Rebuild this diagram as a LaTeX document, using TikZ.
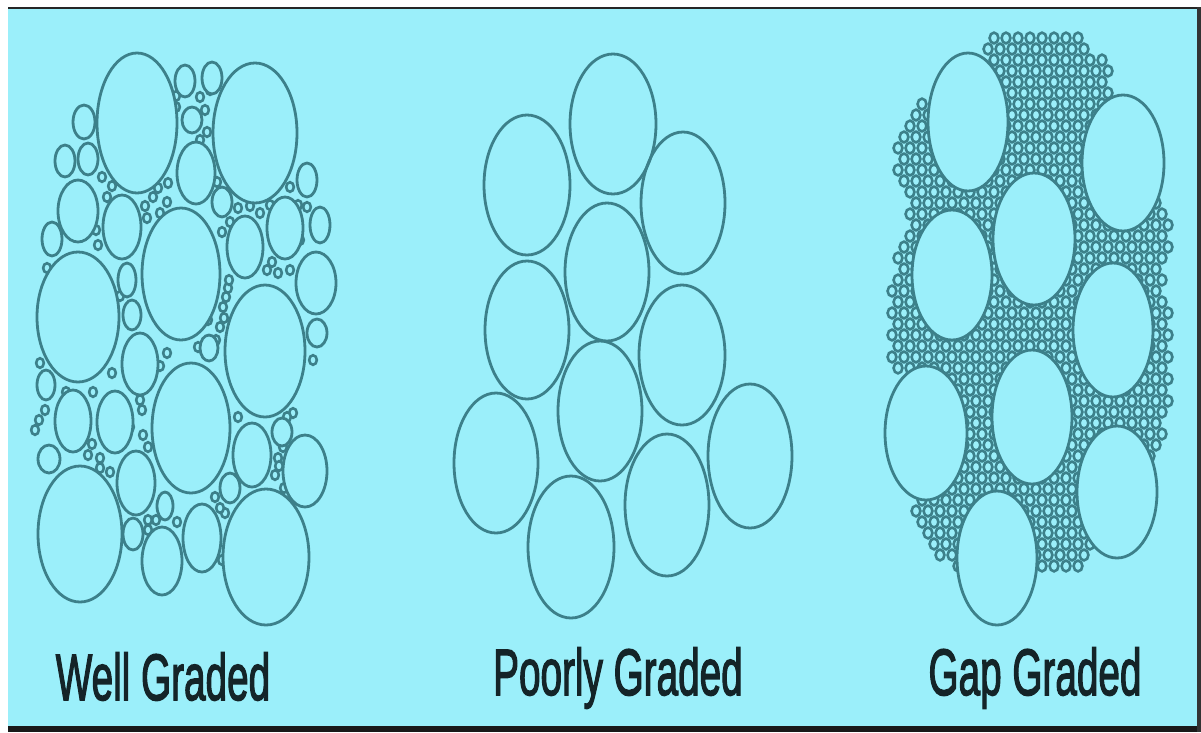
\documentclass[tikz,border=0pt]{standalone}
\usepackage{fontspec}
\setmainfont{Liberation Sans}
\newfontfamily\lblfont[FakeBold=2.5]{Liberation Sans}
\definecolor{bg}{RGB}{155,239,250}
\definecolor{ln}{RGB}{60,128,138}
\definecolor{txt}{RGB}{20,36,40}
\newcommand\ovl[5]{\draw[#1] (#2,#3) ellipse [x radius=#4pt, y radius=#5pt];}
\tikzset{
  big/.style={draw=ln, line width=2.8pt, fill=bg},
  ring/.style={draw=ln, line width=2.8pt},
  tiny/.style={draw=ln, line width=2.6pt, fill=bg},
  grain/.style={draw=ln, line width=2.6pt, fill=bg},
  gradelabel/.style={anchor=base, inner sep=0pt, text=txt, font=\lblfont\fontsize{65.6}{70}\selectfont}
}
\begin{document}
\begin{tikzpicture}[x=1pt,y=-1pt]
\useasboundingbox (0,0) rectangle (1201,732);
\fill[white] (0,0) rectangle (1201,732);
\fill[bg] (8,8) rectangle (1197,726);
\fill[black!85] (8,6.5) rectangle (1201,8.5);
\fill[black!90] (8,726) rectangle (1201,732);
\fill[black!80] (1197,6.5) rectangle (1201,732);

% ---------------- Well graded ----------------
\foreach \px/\py in {102/177,107/197,153/197,147/218,168/183,167/202,98/245,
  200/97,207/132,217/182,222/232,238/208,260/213,290/187,267/270,278/273,290/270,
  228/288,223/307,220/327,307/207,40/363,45/410,93/392,112/373,88/455,100/458,
  110/472,142/410,143/435,148/520,177/522,167/353,140/400,198/347,238/417,
  293/413,278/458,275/475,215/497,225/513,313/360,222/560,160/213,120/296,
  300/240,60/272,35/430,66/392,252/190,176/107,200/140,
  158/188,145/206,112/186,96/230,230/222,250/206,272/262,226/297,224/318,
  216/340,287/417,283/447,279/466,220/508,148/530,156/520,100/468,92/444,
  39/420,205/110,210/90,176/96,70/188,270/205,298/205,229/280,121/402,
  130/427,148/447,160/366,284/488,298/372,47/268,208/320}
  {\ovl{tiny}{\px}{\py}{3.8}{4.8}}
% small
\ovl{big}{185}{81}{10}{16}
\ovl{big}{212}{78}{10}{16}
\ovl{big}{192}{120}{10}{13}
\ovl{big}{84}{122}{11}{17}
\ovl{big}{65}{161}{10}{16}
\ovl{big}{88}{159}{10}{16}
\ovl{big}{52}{239}{10}{17}
\ovl{big}{127}{280}{9}{17}
\ovl{big}{132}{315}{9}{15}
\ovl{big}{222}{202}{10}{15}
\ovl{big}{307}{180}{10}{17}
\ovl{big}{320}{225}{10}{18}
\ovl{big}{317}{333}{10}{14}
\ovl{big}{46}{385}{9}{15}
\ovl{big}{49}{459}{11}{14}
\ovl{big}{133}{534}{10}{16}
\ovl{big}{165}{506}{8}{14}
\ovl{big}{230}{488}{10}{15}
\ovl{big}{282}{432}{10}{14}
\ovl{big}{209}{348}{9}{13}
% medium
\ovl{big}{196}{173}{19}{31}
\ovl{big}{78}{211}{20}{31}
\ovl{big}{122}{227}{19}{32}
\ovl{big}{245}{247}{18}{31}
\ovl{big}{285}{228}{18}{31}
\ovl{big}{316}{283}{20}{31}
\ovl{big}{140}{364}{18}{31}
\ovl{big}{73}{421}{18}{31}
\ovl{big}{115}{422}{18}{31}
\ovl{big}{136}{483}{19}{32}
\ovl{big}{162}{561}{20}{34}
\ovl{big}{202}{538}{19}{34}
\ovl{big}{252}{455}{19}{32}
\ovl{big}{305}{471}{22}{36}
% large
\ovl{big}{137}{123}{40}{70}
\ovl{big}{255}{133}{42}{70}
\ovl{big}{181}{274}{39}{66}
\ovl{big}{78}{317}{41}{65}
\ovl{big}{265}{351}{40}{66}
\ovl{big}{191}{428}{39}{65}
\ovl{big}{80}{534}{42}{68}
\ovl{big}{266}{557}{43}{68}

% ---------------- Poorly graded ----------------
\ovl{ring}{613}{124}{43}{70}
\ovl{ring}{527}{185}{43}{70}
\ovl{ring}{683}{203}{42}{71}
\ovl{ring}{607}{272}{42}{69}
\ovl{ring}{527}{330}{42}{69}
\ovl{ring}{682}{355}{43}{70}
\ovl{ring}{600}{411}{42}{70}
\ovl{ring}{496}{463}{42}{70}
\ovl{ring}{750}{456}{42}{72}
\ovl{ring}{667}{505}{42}{71}
\ovl{ring}{571}{547}{43}{71}

% ---------------- Gap graded ----------------
\foreach \yy/\xa/\xb [count=\i] in {
  38/990/1080, 49/985/1095, 60/985/1110, 71/995/1115, 82/1000/1112,
  93/1000/1110, 104/915/1110, 115/912/1105, 126/905/1100, 137/900/1100,
  148/898/1100, 159/898/1100, 170/898/1095, 181/898/1090, 192/900/1095,
  203/905/1160, 214/905/1168, 225/905/1168, 236/900/1168, 247/895/1168,
  258/893/1165, 269/893/1165, 280/890/1165, 291/890/1165, 302/888/1165,
  313/888/1168, 324/888/1168, 335/888/1168, 346/888/1168, 357/890/1168,
  368/895/1168, 379/905/1168, 390/915/1168, 401/930/1168, 412/940/1165,
  423/945/1165, 434/950/1162, 445/950/1160, 456/950/1160, 467/945/1085,
  478/940/1085, 489/930/1085, 500/920/1090, 511/915/1090, 522/918/1092,
  533/922/1092, 544/930/1092, 555/940/1090, 566/950/1085}
{
  \foreach \k in {0,...,24} {
    \pgfmathsetmacro\xx{880+6*mod(\i,2)+12*\k}
    \ifdim \xx pt<\xa pt\relax\else
      \ifdim \xx pt>\xb pt\relax\else
        \ovl{grain}{\xx}{\yy}{4.4}{5.4}
      \fi
    \fi
  }
}
\ovl{big}{968}{122}{40}{69}
\ovl{big}{1123}{163}{41}{68}
\ovl{big}{1034}{239}{41}{66}
\ovl{big}{952}{275}{40}{65}
\ovl{big}{1113}{330}{40}{67}
\ovl{big}{926}{433}{41}{67}
\ovl{big}{1032}{417}{40}{67}
\ovl{big}{1117}{492}{40}{66}
\ovl{big}{997}{558}{40}{67}

% ---------------- labels ----------------
\node[gradelabel] (wg) at (163,700) {\scalebox{0.59}[1]{Well Graded}};
\node[gradelabel] (pg) at (618,695) {\scalebox{0.59}[1]{Poorly Graded}};
\node[gradelabel] (gg) at (1035,695) {\scalebox{0.59}[1]{Gap Graded}};
\end{tikzpicture}
\end{document}
